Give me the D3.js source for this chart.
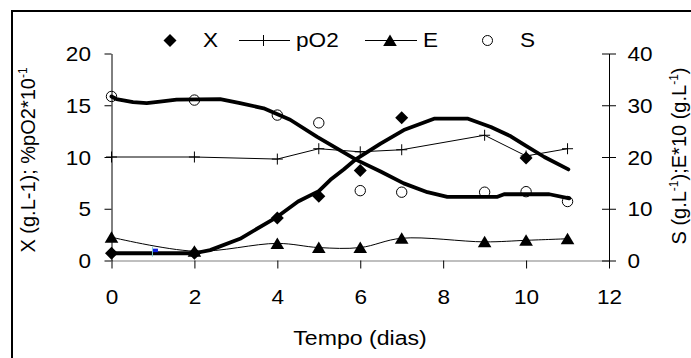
<!DOCTYPE html>
<html>
<head>
<meta charset="utf-8">
<script src="https://cdn.jsdelivr.net/npm/d3@7"></script>
<style>
  html, body { margin: 0; padding: 0; background: #fff; }
  svg { display: block; }
  text { font-family: "Liberation Sans", Arial, sans-serif; fill: #000; }
</style>
</head>
<body>
<svg id="chart" width="691" height="358"></svg>
<script>
// Time axis (days)
const xTicks = [0, 2, 4, 6, 8, 10, 12];
const leftTicks = [0, 5, 10, 15, 20];
const rightTicks = [0, 10, 20, 30, 40];

// Measured biomass X (g/L), left axis
const xDays = [0, 2, 4, 5, 6, 7, 10];
const xValues = [0.7, 0.7, 4.1, 6.2, 8.7, 13.8, 9.9];

// Dissolved oxygen pO2 (% * 10^-1), left axis
const pDays = [0, 2, 4, 5, 6, 7, 9, 10, 11];
const pValues = [10.0, 10.0, 9.8, 10.8, 10.5, 10.7, 12.1, 10.1, 10.8];

// Product E*10 (g/L), right axis
const eDays = [0, 2, 4, 5, 6, 7, 9, 10, 11];
const eValues = [4.5, 1.8, 3.3, 2.5, 2.5, 4.3, 3.6, 3.9, 4.2];

// Substrate S (g/L), right axis
const sDays = [0, 2, 4, 5, 6, 7, 9, 10, 11];
const sValues = [31.7, 31.0, 28.1, 26.6, 13.5, 13.2, 13.2, 13.3, 11.4];

// Fitted trend for X (left axis)
const xFitDays = [0, 2, 2.38, 3.1, 3.99, 4.5, 5.0, 5.28, 5.6, 5.9, 6.49, 7.05, 7.78, 8.6, 9.15, 9.63, 9.95, 10.44, 11.02];
const xFitValues = [0.7, 0.7, 1.0, 2.1, 4.2, 5.7, 6.7, 7.8, 8.8, 9.8, 11.3, 12.6, 13.7, 13.7, 12.9, 12.0, 11.2, 10.0, 8.8];

// Fitted trend for S (right axis)
const sFitDays = [0, 0.12, 0.52, 0.85, 1.17, 1.57, 2.62, 2.86, 3.1, 3.67, 4.31, 4.96, 5.92, 6.49, 7.05, 7.62, 8.1, 9.31, 9.47, 10.56, 11.04];
const sFitValues = [31.7, 31.2, 30.6, 30.4, 30.7, 31.1, 31.2, 30.8, 30.4, 29.4, 27.2, 23.9, 19.4, 17.2, 14.9, 13.2, 12.3, 12.3, 12.8, 12.8, 12.0];

// Stray point marker at day 1
const strayDays = [1];
const strayValues = [0.95];

const legendItems = ["X", "pO2", "E", "S"];

const svg = d3.select("#chart");
const FONT = 20;
const SX = 1.13; // horizontal stretch of the horizontal labels

const x = d3.scaleLinear().domain([0, 12]).range([111.5, 609]);
const yL = d3.scaleLinear().domain([0, 20]).range([260.5, 53.5]);
const yR = d3.scaleLinear().domain([0, 40]).range([260.5, 53.5]);

const zip = (a, b) => a.map((d, i) => [d, b[i]]);

// Outer frame
svg.append("rect")
  .attr("x", 12).attr("y", 11).attr("width", 720).attr("height", 400)
  .attr("fill", "none").attr("stroke", "#000").attr("stroke-width", 2);

// X axis
const gx = svg.append("g").attr("transform", `translate(0,${yL(0)})`)
  .call(d3.axisBottom(x).tickValues(xTicks).tickSize(8).tickSizeOuter(0));
gx.select(".domain").attr("stroke", "#808080").attr("stroke-width", 1.2);
gx.selectAll(".tick line").attr("stroke", "#000");
gx.selectAll(".tick text")
  .attr("y", 0).attr("dy", null)
  .attr("transform", `translate(0,43) scale(${SX},1)`)
  .style("font-size", FONT + "px");

// Left axis
const gl = svg.append("g").attr("transform", `translate(${x(0)},0)`)
  .call(d3.axisLeft(yL).tickValues(leftTicks).tickSize(7).tickSizeOuter(0));
gl.select(".domain").attr("stroke", "#000");
gl.selectAll(".tick text")
  .attr("x", 0).attr("dy", "0.36em")
  .attr("transform", `translate(-20.5,0) scale(${SX},1)`)
  .style("font-size", FONT + "px");

// Right axis with crossing ticks
const gr = svg.append("g").attr("transform", `translate(${x(12)},0)`)
  .call(d3.axisRight(yR).tickValues(rightTicks).tickSize(7).tickSizeOuter(0));
gr.select(".domain").attr("stroke", "#000");
gr.selectAll(".tick line").attr("x1", -7).attr("x2", 7);
gr.selectAll(".tick text")
  .attr("x", 0).attr("dy", "0.36em")
  .attr("transform", `translate(18.5,0) scale(${SX},1)`)
  .style("font-size", FONT + "px");

svg.selectAll(".tick text").attr("font-family", null).attr("fill", "#000");
svg.selectAll(".tick line").attr("stroke", "#000");

// Axis titles
svg.append("text")
  .attr("transform", `translate(360,345) scale(1.1,1)`)
  .attr("text-anchor", "middle")
  .style("font-size", "21px")
  .text("Tempo (dias)");

const lt = svg.append("text")
  .attr("transform", "translate(35,160) rotate(-90)")
  .attr("text-anchor", "middle")
  .style("font-size", FONT + "px");
lt.append("tspan").text("X (g.L-1); %pO2*10");
lt.append("tspan").attr("dy", -8).style("font-size", "12px").text("-1");

const rt = svg.append("text")
  .attr("transform", "translate(686,156) rotate(-90)")
  .attr("text-anchor", "middle")
  .style("font-size", FONT + "px");
rt.append("tspan").text("S (g.L");
rt.append("tspan").attr("dy", -8).style("font-size", "12px").text("-1");
rt.append("tspan").attr("dy", 8).text(");E*10 (g.L");
rt.append("tspan").attr("dy", -8).style("font-size", "12px").text("-1");
rt.append("tspan").attr("dy", 8).text(")");

// Marker shapes
const diamond = "M0,-6.5L6.5,0L0,6.5L-6.5,0Z";
const triangle = "M0,-6L6.8,5.5L-6.8,5.5Z";
const plus = "M-5.5,0H5.5M0,-5.5V5.5";

const line = d3.line();
const lineCurved = d3.line().curve(d3.curveCatmullRom.alpha(0.5));

// pO2 line
svg.append("path")
  .attr("d", line(zip(pDays, pValues).map(d => [x(d[0]), yL(d[1])])))
  .attr("fill", "none").attr("stroke", "#000").attr("stroke-width", 1);

// E smoothed line
svg.append("path")
  .attr("d", lineCurved(zip(eDays, eValues).map(d => [x(d[0]), yR(d[1])])))
  .attr("fill", "none").attr("stroke", "#000").attr("stroke-width", 1);

// Thick fitted trends
svg.append("path")
  .attr("d", line(zip(xFitDays, xFitValues).map(d => [x(d[0]), yL(d[1])])))
  .attr("fill", "none").attr("stroke", "#000").attr("stroke-width", 3.8)
  .attr("stroke-linejoin", "round").attr("stroke-linecap", "round");
svg.append("path")
  .attr("d", line(zip(sFitDays, sFitValues).map(d => [x(d[0]), yR(d[1])])))
  .attr("fill", "none").attr("stroke", "#000").attr("stroke-width", 3.8)
  .attr("stroke-linejoin", "round").attr("stroke-linecap", "round");

// Stray marker
const stray = svg.append("g").selectAll("g").data(zip(strayDays, strayValues)).join("g")
  .attr("transform", d => `translate(${x(d[0])},${yL(d[1])})`);
stray.append("line").attr("x1", -0.5).attr("x2", -0.5).attr("y1", -4).attr("y2", 6)
  .attr("stroke", "#7fd0d0").attr("stroke-width", 1);
stray.append("rect").attr("x", 0).attr("y", -2).attr("width", 5).attr("height", 3.5)
  .attr("fill", "#1020e0");

// pO2 markers
svg.append("g").selectAll("path").data(zip(pDays, pValues)).join("path")
  .attr("d", plus)
  .attr("transform", d => `translate(${x(d[0])},${yL(d[1])})`)
  .attr("stroke", "#000").attr("stroke-width", 1).attr("fill", "none");

// E markers
svg.append("g").selectAll("path").data(zip(eDays, eValues)).join("path")
  .attr("d", triangle)
  .attr("transform", d => `translate(${x(d[0])},${yR(d[1])})`)
  .attr("fill", "#000");

// S markers
svg.append("g").selectAll("circle").data(zip(sDays, sValues)).join("circle")
  .attr("cx", d => x(d[0])).attr("cy", d => yR(d[1])).attr("r", 5.2)
  .attr("fill", "#fff").attr("fill-opacity", 0).attr("stroke", "#000").attr("stroke-width", 1);

// X markers
svg.append("g").selectAll("path").data(zip(xDays, xValues)).join("path")
  .attr("d", diamond)
  .attr("transform", d => `translate(${x(d[0])},${yL(d[1])})`)
  .attr("fill", "#000");

// Legend
const ly = 40.5;
const legend = svg.append("g");
legend.append("path").attr("d", diamond).attr("transform", `translate(170,${ly})`).attr("fill", "#000");
legend.append("line").attr("x1", 239).attr("x2", 290).attr("y1", ly).attr("y2", ly).attr("stroke", "#000");
legend.append("path").attr("d", plus).attr("transform", `translate(263.5,${ly})`).attr("stroke", "#000");
legend.append("line").attr("x1", 365).attr("x2", 417).attr("y1", ly).attr("y2", ly).attr("stroke", "#000");
legend.append("path").attr("d", triangle).attr("transform", `translate(390,${ly})`).attr("fill", "#000");
legend.append("circle").attr("cx", 487.5).attr("cy", ly).attr("r", 5).attr("fill", "none").attr("stroke", "#000");
const legendX = [203, 296, 423, 520];
legendItems.forEach((t, i) => {
  legend.append("text")
    .attr("transform", `translate(${legendX[i]},${ly + 6.5}) scale(${SX},1)`)
    .style("font-size", FONT + "px")
    .text(t);
});
</script>
</body>
</html>
